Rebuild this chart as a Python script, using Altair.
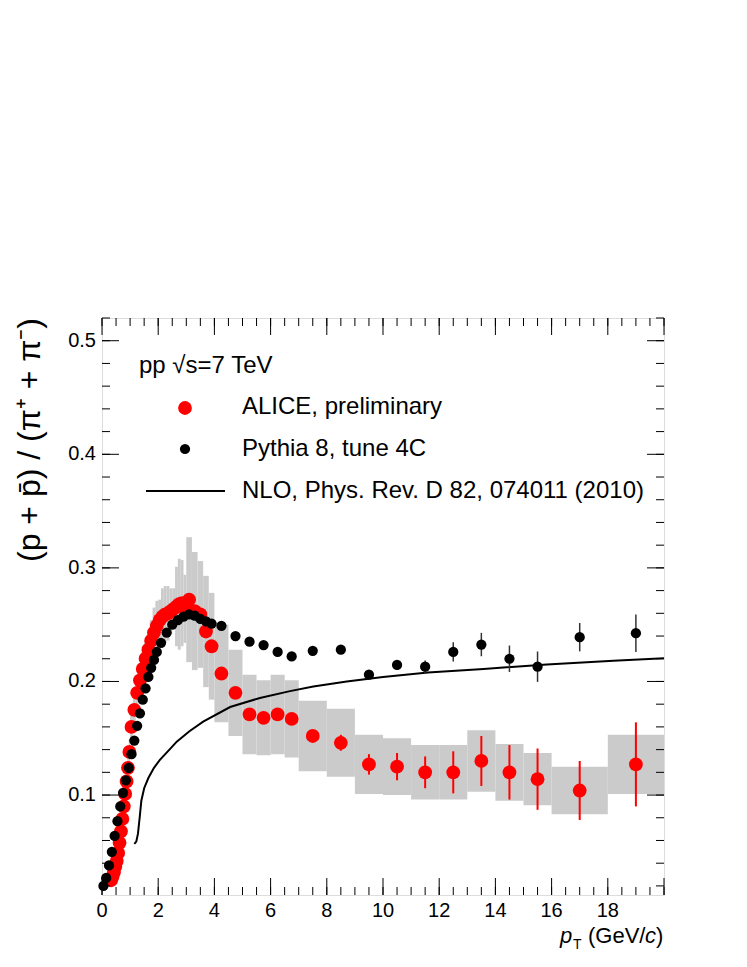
import altair as alt
import pandas as pd

# ---------------- data ----------------
alice_pt = [0.325, 0.375, 0.425, 0.475, 0.525, 0.575, 0.625, 0.675, 0.725, 0.775,
            0.825, 0.875, 0.925, 0.975,
            1.05, 1.15, 1.25, 1.35, 1.45, 1.55, 1.65, 1.75, 1.85, 1.95,
            2.05, 2.15, 2.25, 2.35, 2.45, 2.55, 2.65, 2.75, 2.85, 2.95,
            3.1, 3.3, 3.5, 3.7, 3.9,
            4.25, 4.75, 5.25, 5.75, 6.25, 6.75,
            7.5, 8.5, 9.5, 10.5, 11.5, 12.5, 13.5, 14.5, 15.5,
            17.0, 19.0]
alice_ratio = [0.025, 0.028, 0.032, 0.037, 0.042, 0.049, 0.058, 0.068, 0.079, 0.090,
               0.101, 0.112, 0.124, 0.138,
               0.160, 0.175, 0.190, 0.201, 0.211, 0.220, 0.228, 0.236, 0.243, 0.249,
               0.254, 0.257, 0.259, 0.260, 0.262, 0.264, 0.266, 0.268, 0.269, 0.264,
               0.272, 0.262, 0.259, 0.244, 0.231,
               0.207, 0.190, 0.171, 0.168, 0.171, 0.167,
               0.152, 0.146, 0.127, 0.125, 0.120, 0.120, 0.130, 0.120, 0.114,
               0.104, 0.127]
alice_stat = [0.0] * 14 + [0.0] * 20 + [0.001] * 5 + \
             [0.002, 0.002, 0.002, 0.002, 0.002, 0.003] + \
             [0.004, 0.007, 0.009, 0.012, 0.014, 0.0185, 0.022, 0.024, 0.027] + \
             [0.026, 0.037]
alice_sys = [0.002, 0.002, 0.003, 0.003, 0.003, 0.004, 0.005, 0.005, 0.006, 0.007,
             0.008, 0.009, 0.010, 0.011,
             0.012, 0.013, 0.014, 0.015, 0.015, 0.016, 0.016, 0.018, 0.022, 0.022,
             0.018, 0.025, 0.025, 0.024, 0.020, 0.018, 0.035, 0.040, 0.038, 0.030,
             0.055, 0.052, 0.047, 0.049, 0.047,
             0.043, 0.038, 0.035, 0.033, 0.035, 0.034,
             0.031, 0.030, 0.026, 0.025, 0.024, 0.024, 0.027, 0.025, 0.023,
             0.021, 0.026]
alice_halfwidth = [0.025] * 14 + [0.05] * 20 + [0.1] * 5 + [0.25] * 6 + [0.5] * 9 + [1.0] * 2

pythia_pt = [0.05, 0.15, 0.25, 0.35, 0.45, 0.55, 0.65, 0.75, 0.85, 0.95,
             1.05, 1.15, 1.25, 1.35, 1.45, 1.55, 1.65, 1.75, 1.85, 1.95,
             2.1, 2.3, 2.5, 2.7, 2.9, 3.1, 3.3, 3.5, 3.7, 3.9,
             4.25, 4.75, 5.25, 5.75, 6.25, 6.75,
             7.5, 8.5, 9.5, 10.5, 11.5, 12.5, 13.5, 14.5, 15.5,
             17.0, 19.0]
pythia_ratio = [0.020, 0.027, 0.038, 0.050, 0.064, 0.077, 0.090, 0.102, 0.113, 0.124,
                0.136, 0.148, 0.161, 0.172, 0.184, 0.194, 0.204, 0.212, 0.219, 0.226,
                0.234, 0.243, 0.250, 0.254, 0.257, 0.259, 0.258, 0.255, 0.253, 0.251,
                0.249, 0.240, 0.235, 0.232, 0.226, 0.222,
                0.227, 0.228, 0.206, 0.2145, 0.213, 0.226, 0.2325, 0.220, 0.213,
                0.239, 0.2425]
pythia_err = [0.0] * 36 + [0.002, 0.002, 0.002, 0.0044, 0.0055, 0.0085, 0.0103, 0.0116, 0.0134,
                           0.0125, 0.0165]

nlo_pt = [1.15, 1.22, 1.28, 1.34, 1.40, 1.50, 1.65, 1.85, 2.06, 2.4, 2.66, 3.1, 3.6,
          4.56, 5.62, 6.69, 7.52, 8.71, 10.0, 11.6, 13.58, 15.83, 18.2, 20.0]
nlo_ratio = [0.057, 0.059, 0.066, 0.080, 0.095, 0.106, 0.115, 0.124, 0.131, 0.140, 0.147,
             0.156, 0.1646, 0.1775, 0.1855, 0.1915, 0.1955, 0.2000, 0.2040, 0.2078, 0.211,
             0.215, 0.2183, 0.2205]

x_major = [0, 2, 4, 6, 8, 10, 12, 14, 16, 18, 20]
x_labels = [0, 2, 4, 6, 8, 10, 12, 14, 16, 18]
x_minor = [i * 0.5 for i in range(41)]
y_major = [0.1, 0.2, 0.3, 0.4, 0.5]
y_labels = ["0.1", "0.2", "0.3", "0.4", "0.5"]
y_minor = [round(0.02 * i, 2) for i in range(1, 27)]

header_text = ["pp √s=7 TeV"]
legend_labels = ["ALICE, preliminary", "Pythia 8, tune 4C", "NLO, Phys. Rev. D 82, 074011 (2010)"]
y_title = ["(p + p̄) / (π⁺ + π⁻)"]

# ---------------- frames ----------------
alice = pd.DataFrame({"pt": alice_pt, "r": alice_ratio, "stat": alice_stat,
                      "sys": alice_sys, "hw": alice_halfwidth})
alice["lo"] = alice["pt"] - alice["hw"]
alice["hi"] = alice["pt"] + alice["hw"]
alice["slo"] = alice["r"] - alice["sys"]
alice["shi"] = alice["r"] + alice["sys"]
alice["elo"] = alice["r"] - alice["stat"]
alice["ehi"] = alice["r"] + alice["stat"]

pythia = pd.DataFrame({"pt": pythia_pt, "r": pythia_ratio, "e": pythia_err})
pythia["elo"] = pythia["r"] - pythia["e"]
pythia["ehi"] = pythia["r"] + pythia["e"]

nlo = pd.DataFrame({"pt": nlo_pt, "r": nlo_ratio})

W, H = 562, 577
FONT = "Liberation Sans"
xs = alt.Scale(domain=[0, 20], nice=False, zero=False)
ys = alt.Scale(domain=[0.012, 0.52], nice=False, zero=False)


def X(f):
    return alt.X(f + ":Q", scale=xs, axis=None)


def Y(f):
    return alt.Y(f + ":Q", scale=ys, axis=None)


layers = []

# systematic boxes
layers.append(alt.Chart(alice).mark_rect(color="#cbcbcb").encode(
    x=X("lo"), x2="hi:Q", y=Y("slo"), y2="shi:Q"))

# NLO curve
layers.append(alt.Chart(nlo).mark_line(color="black", strokeWidth=2).encode(
    x=X("pt"), y=Y("r")))

# ALICE stat errors + points
layers.append(alt.Chart(alice).mark_rule(color="#ff0000", strokeWidth=2).encode(
    x=X("pt"), y=Y("elo"), y2="ehi:Q"))
layers.append(alt.Chart(alice).mark_circle(color="#ff0000", size=190, opacity=1).encode(
    x=X("pt"), y=Y("r")))

# Pythia errors + points
layers.append(alt.Chart(pythia).mark_rule(color="#333333", strokeWidth=1.5).encode(
    x=X("pt"), y=Y("elo"), y2="ehi:Q"))
layers.append(alt.Chart(pythia).mark_circle(color="black", size=105, opacity=1).encode(
    x=X("pt"), y=Y("r")))

# inward ticks on all four sides
for vals, L in ((x_major, 17), (x_minor, 8)):
    d = pd.DataFrame({"v": vals})
    layers.append(alt.Chart(d).mark_rule(color="black", strokeWidth=1).encode(
        x=X("v"), y=alt.value(H), y2=alt.value(H - L)))
    layers.append(alt.Chart(d).mark_rule(color="black", strokeWidth=1).encode(
        x=X("v"), y=alt.value(0), y2=alt.value(L)))
for vals, L in ((y_major, 17), (y_minor, 8)):
    d = pd.DataFrame({"v": vals})
    layers.append(alt.Chart(d).mark_rule(color="black", strokeWidth=1).encode(
        y=Y("v"), x=alt.value(0), x2=alt.value(L)))
    layers.append(alt.Chart(d).mark_rule(color="black", strokeWidth=1).encode(
        y=Y("v"), x=alt.value(W), x2=alt.value(W - L)))

# tick labels
layers.append(alt.Chart(pd.DataFrame({"v": x_labels, "t": [str(v) for v in x_labels]})).mark_text(
    align="center", baseline="alphabetic", fontSize=20, font=FONT, color="black").encode(
    x=X("v"), y=alt.value(H + 22), text="t:N"))
layers.append(alt.Chart(pd.DataFrame({"v": y_major, "t": y_labels})).mark_text(
    align="right", baseline="middle", fontSize=20, font=FONT, color="black").encode(
    y=Y("v"), x=alt.value(-6), text="t:N"))

# legend
layers.append(alt.Chart(pd.DataFrame({"t": header_text})).mark_text(
    align="left", baseline="middle", fontSize=24, font=FONT, color="black").encode(
    text="t:N", x=alt.value(37), y=alt.value(48)))
leg = pd.DataFrame({"t": legend_labels})
layers.append(alt.Chart(leg.iloc[[0]]).mark_circle(color="#ff0000", size=190, opacity=1).encode(
    x=alt.value(83), y=alt.value(90)))
layers.append(alt.Chart(leg.iloc[[1]]).mark_circle(color="black", size=105, opacity=1).encode(
    x=alt.value(83), y=alt.value(131)))
layers.append(alt.Chart(leg.iloc[[2]]).mark_rule(color="black", strokeWidth=2).encode(
    x=alt.value(44), x2=alt.value(123), y=alt.value(173)))
for i, yy in enumerate([89, 131, 173]):
    layers.append(alt.Chart(leg.iloc[[i]]).mark_text(
        align="left", baseline="middle", fontSize=24, font=FONT, color="black").encode(
        text="t:N", x=alt.value(140), y=alt.value(yy)))

# y axis title (rotated)
layers.append(alt.Chart(pd.DataFrame({"t": y_title})).mark_text(
    align="right", baseline="middle", angle=270, fontSize=32, font=FONT, color="black").encode(
    text="t:N", x=alt.value(-72), y=alt.value(0)))

# x axis title: p_T (GeV/c)
xt = [("p", 458, 625, 22, "italic"), ("T", 471, 631, 14, "normal"),
      ("(GeV/", 486, 625, 22, "normal"), ("c", 543, 625, 22, "italic"),
      (")", 554, 625, 22, "normal")]
for s, xx, yy, fs, st in xt:
    layers.append(alt.Chart(pd.DataFrame({"t": [s]})).mark_text(
        align="left", baseline="alphabetic", fontSize=fs, font=FONT, fontStyle=st,
        color="black").encode(text="t:N", x=alt.value(xx), y=alt.value(yy)))

chart = alt.layer(*layers).properties(
    width=W, height=H,
    autosize=alt.AutoSizeParams(type="none"),
    padding={"left": 94, "top": 310, "right": 75, "bottom": 62},
).configure_view(stroke="black", strokeWidth=1).configure(font=FONT)

chart.save("out.html", embed_options={"renderer": "svg", "actions": False})
